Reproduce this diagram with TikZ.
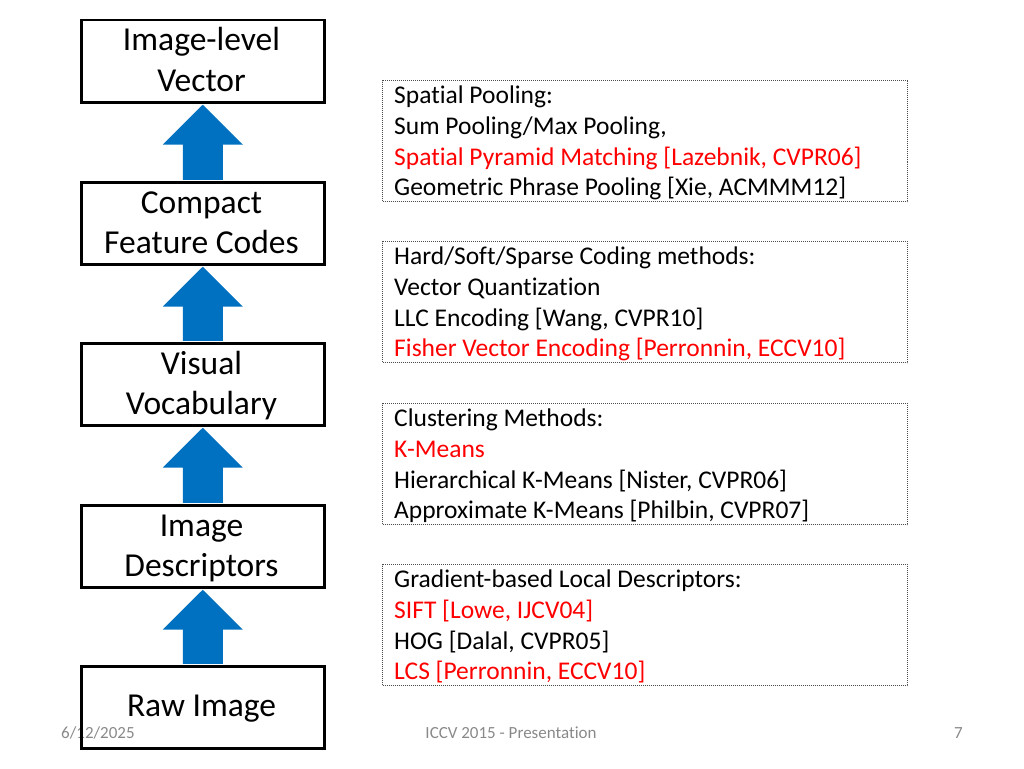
\documentclass[tikz,border=0pt]{standalone}
\usepackage{fontspec}
\setmainfont{Carlito}[RawFeature={-liga;-clig;-dlig}]
\usetikzlibrary{calc}
\definecolor{arrowblue}{HTML}{0070C0}
\definecolor{refred}{HTML}{FF0000}
\definecolor{footgray}{HTML}{898989}
\tikzset{
  stagebox/.style={draw=black, line width=2.5pt, minimum width=243pt, minimum height=82pt, inner sep=0pt, anchor=north west},
  notebox/.style={draw=black!70, line width=1pt, dash pattern=on 1pt off 1pt, minimum width=525pt, minimum height=121pt, inner sep=0pt, anchor=north west},
  stagetext/.style={font=\fontsize{33.5}{40}\selectfont, anchor=base, inner sep=0pt},
  notetext/.style={font=\fontsize{25.5}{30.8}\selectfont, anchor=base west, inner sep=0pt},
  redtext/.style={notetext, text=refred},
  foottext/.style={font=\fontsize{17}{20}\selectfont, text=footgray, anchor=base, inner sep=0pt},
  uparrow/.style={fill=arrowblue}
}
\begin{document}
\begin{tikzpicture}[x=1pt,y=-1pt]
\useasboundingbox (0,0) rectangle (1024,768);
% footer
\node[foottext, anchor=base west] (date) at (61,738) {6/12/2025};
\node[foottext] (title) at (511,738) {ICCV 2015 - Presentation};
\node[foottext, anchor=base east] (page) at (963,738) {7};
% left stage boxes
\node[stagebox] (b1) at (80,19) {};
\node[stagebox] (b2) at (80,181) {};
\node[stagebox] (b3) at (80,342) {};
\node[stagebox] (b4) at (80,504) {};
\node[stagebox] (b5) at (80,665) {};
\node[stagetext] (t1a) at (201.5,51) {Image-level};
\node[stagetext] (t1b) at (201.5,91) {Vector};
\node[stagetext] (t2a) at (201.5,213) {Compact};
\node[stagetext] (t2b) at (201.5,253) {Feature Codes};
\node[stagetext] (t3a) at (201.5,374) {Visual};
\node[stagetext] (t3b) at (201.5,414) {Vocabulary};
\node[stagetext] (t4a) at (201.5,536) {Image};
\node[stagetext] (t4b) at (201.5,576) {Descriptors};
\node[stagetext] (t5) at (201.5,716) {Raw Image};
% block arrows
\foreach \lo/\hi in {b2/b1,b3/b2,b4/b3,b5/b4}{
  \fill[uparrow] ($(\hi.south)+(0,1.25)$) -- ($(\hi.south)+(40,41)$) -- ($(\hi.south)+(20,41)$)
     -- ($(\lo.north)+(20,-1.25)$) -- ($(\lo.north)+(-20,-1.25)$) -- ($(\hi.south)+(-20,41)$)
     -- ($(\hi.south)+(-40,41)$) -- cycle;
}
% right note boxes
\node[notebox] (n1) at (382,80) {};
\node[notebox] (n2) at (382,241) {};
\node[notebox] (n3) at (382,403) {};
\node[notebox] (n4) at (382,564) {};
% note texts
\node[notetext] (n1l1) at (394,103.5) {Spatial Pooling:};
\node[notetext] (n1l2) at (394,134.3) {Sum Pooling/Max Pooling,};
\node[redtext]  (n1l3) at (394,165) {Spatial Pyramid Matching [Lazebnik, CVPR06]};
\node[notetext] (n1l4) at (394,195.7) {Geometric Phrase Pooling [Xie, ACMMM12]};
\node[notetext] (n2l1) at (394,264.5) {Hard/Soft/Sparse Coding methods:};
\node[notetext] (n2l2) at (394,295.3) {Vector Quantization};
\node[notetext] (n2l3) at (394,326) {LLC Encoding [Wang, CVPR10]};
\node[redtext]  (n2l4) at (394,356.7) {Fisher Vector Encoding [Perronnin, ECCV10]};
\node[notetext] (n3l1) at (394,426.5) {Clustering Methods:};
\node[redtext]  (n3l2) at (394,457.3) {K-Means};
\node[notetext] (n3l3) at (394,488) {Hierarchical K-Means [Nister, CVPR06]};
\node[notetext] (n3l4) at (394,518.7) {Approximate K-Means [Philbin, CVPR07]};
\node[notetext] (n4l1) at (394,587.5) {Gradient-based Local Descriptors:};
\node[redtext]  (n4l2) at (394,618.3) {SIFT [Lowe, IJCV04]};
\node[notetext] (n4l3) at (394,649) {HOG [Dalal, CVPR05]};
\node[redtext]  (n4l4) at (394,679.7) {LCS [Perronnin, ECCV10]};
\end{tikzpicture}
\end{document}
